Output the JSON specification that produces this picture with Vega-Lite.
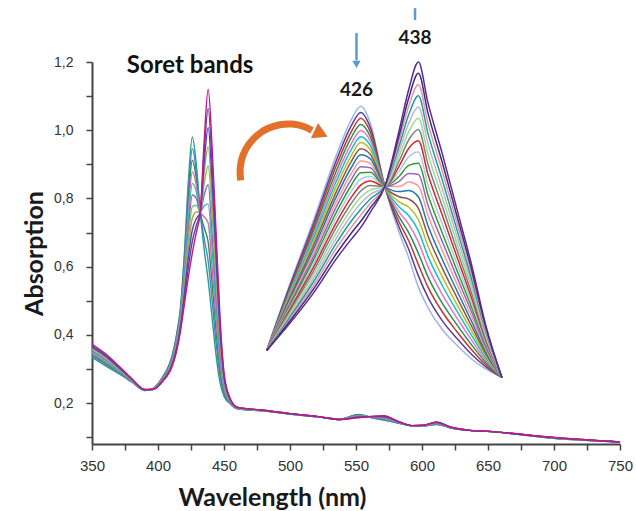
{
"$schema": "https://vega.github.io/schema/vega-lite/v6.json",
"width": 528,
"height": 382,
"autosize": {"type": "none"},
"padding": {"left": 92, "top": 62, "right": 16, "bottom": 67},
"background": "white",
"config": {
  "view": {"stroke": null},
  "font": "Lato",
  "axis": {"domainColor": "#444444", "domainWidth": 2, "tickColor": "#444444", "tickWidth": 1.5, "tickSize": 6, "grid": false, "labelFont": "Liberation Sans", "labelColor": "#333333", "labelFontSize": 14, "labelOverlap": false, "labelFlush": false, "titleFont": "Lato", "titleFontSize": 25, "titleFontWeight": "bold", "titleColor": "#1a1a1a", "titleAlign": "center", "titleBaseline": "middle"}
},
"datasets": {
"main": [
{"c":0,"nm":350,"a":0.334},{"c":1,"nm":350,"a":0.338},{"c":2,"nm":350,"a":0.342},{"c":3,"nm":350,"a":0.345},{"c":4,"nm":350,"a":0.349},{"c":5,"nm":350,"a":0.353},{"c":6,"nm":350,"a":0.357},{"c":7,"nm":350,"a":0.361},{"c":8,"nm":350,"a":0.364},{"c":9,"nm":350,"a":0.368},{"c":10,"nm":350,"a":0.372},
{"c":0,"nm":360,"a":0.31},{"c":1,"nm":360,"a":0.314},{"c":2,"nm":360,"a":0.317},{"c":3,"nm":360,"a":0.321},{"c":4,"nm":360,"a":0.324},{"c":5,"nm":360,"a":0.328},{"c":6,"nm":360,"a":0.331},{"c":7,"nm":360,"a":0.335},{"c":8,"nm":360,"a":0.338},{"c":9,"nm":360,"a":0.342},{"c":10,"nm":360,"a":0.345},
{"c":0,"nm":370,"a":0.287},{"c":1,"nm":370,"a":0.289},{"c":2,"nm":370,"a":0.292},{"c":3,"nm":370,"a":0.294},{"c":4,"nm":370,"a":0.296},{"c":5,"nm":370,"a":0.299},{"c":6,"nm":370,"a":0.301},{"c":7,"nm":370,"a":0.303},{"c":8,"nm":370,"a":0.305},{"c":9,"nm":370,"a":0.308},{"c":10,"nm":370,"a":0.31},
{"c":0,"nm":380,"a":0.262},{"c":1,"nm":380,"a":0.263},{"c":2,"nm":380,"a":0.264},{"c":3,"nm":380,"a":0.265},{"c":4,"nm":380,"a":0.266},{"c":5,"nm":380,"a":0.267},{"c":6,"nm":380,"a":0.268},{"c":7,"nm":380,"a":0.269},{"c":8,"nm":380,"a":0.27},{"c":9,"nm":380,"a":0.271},{"c":10,"nm":380,"a":0.272},
{"c":0,"nm":390,"a":0.237},{"c":1,"nm":390,"a":0.237},{"c":2,"nm":390,"a":0.238},{"c":3,"nm":390,"a":0.238},{"c":4,"nm":390,"a":0.238},{"c":5,"nm":390,"a":0.239},{"c":6,"nm":390,"a":0.239},{"c":7,"nm":390,"a":0.239},{"c":8,"nm":390,"a":0.239},{"c":9,"nm":390,"a":0.24},{"c":10,"nm":390,"a":0.24},
{"c":0,"nm":396,"a":0.242},{"c":1,"nm":396,"a":0.242},{"c":2,"nm":396,"a":0.242},{"c":3,"nm":396,"a":0.241},{"c":4,"nm":396,"a":0.241},{"c":5,"nm":396,"a":0.241},{"c":6,"nm":396,"a":0.241},{"c":7,"nm":396,"a":0.241},{"c":8,"nm":396,"a":0.24},{"c":9,"nm":396,"a":0.24},{"c":10,"nm":396,"a":0.24},
{"c":0,"nm":401,"a":0.262},{"c":1,"nm":401,"a":0.261},{"c":2,"nm":401,"a":0.26},{"c":3,"nm":401,"a":0.259},{"c":4,"nm":401,"a":0.258},{"c":5,"nm":401,"a":0.257},{"c":6,"nm":401,"a":0.256},{"c":7,"nm":401,"a":0.255},{"c":8,"nm":401,"a":0.254},{"c":9,"nm":401,"a":0.253},{"c":10,"nm":401,"a":0.252},
{"c":0,"nm":404,"a":0.28},{"c":1,"nm":404,"a":0.279},{"c":2,"nm":404,"a":0.277},{"c":3,"nm":404,"a":0.276},{"c":4,"nm":404,"a":0.274},{"c":5,"nm":404,"a":0.273},{"c":6,"nm":404,"a":0.272},{"c":7,"nm":404,"a":0.27},{"c":8,"nm":404,"a":0.269},{"c":9,"nm":404,"a":0.267},{"c":10,"nm":404,"a":0.266},
{"c":0,"nm":407,"a":0.3},{"c":1,"nm":407,"a":0.298},{"c":2,"nm":407,"a":0.296},{"c":3,"nm":407,"a":0.294},{"c":4,"nm":407,"a":0.292},{"c":5,"nm":407,"a":0.29},{"c":6,"nm":407,"a":0.288},{"c":7,"nm":407,"a":0.286},{"c":8,"nm":407,"a":0.284},{"c":9,"nm":407,"a":0.282},{"c":10,"nm":407,"a":0.28},
{"c":0,"nm":410,"a":0.33},{"c":1,"nm":410,"a":0.327},{"c":2,"nm":410,"a":0.324},{"c":3,"nm":410,"a":0.321},{"c":4,"nm":410,"a":0.318},{"c":5,"nm":410,"a":0.315},{"c":6,"nm":410,"a":0.312},{"c":7,"nm":410,"a":0.309},{"c":8,"nm":410,"a":0.306},{"c":9,"nm":410,"a":0.303},{"c":10,"nm":410,"a":0.3},
{"c":0,"nm":414,"a":0.4},{"c":1,"nm":414,"a":0.395},{"c":2,"nm":414,"a":0.39},{"c":3,"nm":414,"a":0.385},{"c":4,"nm":414,"a":0.38},{"c":5,"nm":414,"a":0.375},{"c":6,"nm":414,"a":0.37},{"c":7,"nm":414,"a":0.365},{"c":8,"nm":414,"a":0.36},{"c":9,"nm":414,"a":0.355},{"c":10,"nm":414,"a":0.35},
{"c":0,"nm":417,"a":0.48},{"c":1,"nm":417,"a":0.473},{"c":2,"nm":417,"a":0.466},{"c":3,"nm":417,"a":0.459},{"c":4,"nm":417,"a":0.452},{"c":5,"nm":417,"a":0.445},{"c":6,"nm":417,"a":0.438},{"c":7,"nm":417,"a":0.431},{"c":8,"nm":417,"a":0.424},{"c":9,"nm":417,"a":0.417},{"c":10,"nm":417,"a":0.41},
{"c":0,"nm":420,"a":0.64},{"c":1,"nm":420,"a":0.625},{"c":2,"nm":420,"a":0.61},{"c":3,"nm":420,"a":0.595},{"c":4,"nm":420,"a":0.58},{"c":5,"nm":420,"a":0.565},{"c":6,"nm":420,"a":0.55},{"c":7,"nm":420,"a":0.535},{"c":8,"nm":420,"a":0.52},{"c":9,"nm":420,"a":0.505},{"c":10,"nm":420,"a":0.49},
{"c":0,"nm":423,"a":0.85},{"c":1,"nm":423,"a":0.822},{"c":2,"nm":423,"a":0.794},{"c":3,"nm":423,"a":0.766},{"c":4,"nm":423,"a":0.738},{"c":5,"nm":423,"a":0.71},{"c":6,"nm":423,"a":0.682},{"c":7,"nm":423,"a":0.654},{"c":8,"nm":423,"a":0.626},{"c":9,"nm":423,"a":0.598},{"c":10,"nm":423,"a":0.57},
{"c":0,"nm":426,"a":0.98},{"c":1,"nm":426,"a":0.946},{"c":2,"nm":426,"a":0.912},{"c":3,"nm":426,"a":0.878},{"c":4,"nm":426,"a":0.844},{"c":5,"nm":426,"a":0.81},{"c":6,"nm":426,"a":0.776},{"c":7,"nm":426,"a":0.742},{"c":8,"nm":426,"a":0.708},{"c":9,"nm":426,"a":0.674},{"c":10,"nm":426,"a":0.64},
{"c":0,"nm":429,"a":0.9},{"c":1,"nm":429,"a":0.88},{"c":2,"nm":429,"a":0.86},{"c":3,"nm":429,"a":0.84},{"c":4,"nm":429,"a":0.82},{"c":5,"nm":429,"a":0.8},{"c":6,"nm":429,"a":0.78},{"c":7,"nm":429,"a":0.76},{"c":8,"nm":429,"a":0.74},{"c":9,"nm":429,"a":0.72},{"c":10,"nm":429,"a":0.7},
{"c":0,"nm":432,"a":0.76},{"c":1,"nm":432,"a":0.76},{"c":2,"nm":432,"a":0.76},{"c":3,"nm":432,"a":0.76},{"c":4,"nm":432,"a":0.76},{"c":5,"nm":432,"a":0.76},{"c":6,"nm":432,"a":0.76},{"c":7,"nm":432,"a":0.76},{"c":8,"nm":432,"a":0.76},{"c":9,"nm":432,"a":0.76},{"c":10,"nm":432,"a":0.76},
{"c":0,"nm":435,"a":0.65},{"c":1,"nm":435,"a":0.682},{"c":2,"nm":435,"a":0.714},{"c":3,"nm":435,"a":0.746},{"c":4,"nm":435,"a":0.778},{"c":5,"nm":435,"a":0.81},{"c":6,"nm":435,"a":0.842},{"c":7,"nm":435,"a":0.874},{"c":8,"nm":435,"a":0.906},{"c":9,"nm":435,"a":0.938},{"c":10,"nm":435,"a":0.97},
{"c":0,"nm":438,"a":0.56},{"c":1,"nm":438,"a":0.616},{"c":2,"nm":438,"a":0.672},{"c":3,"nm":438,"a":0.728},{"c":4,"nm":438,"a":0.784},{"c":5,"nm":438,"a":0.84},{"c":6,"nm":438,"a":0.896},{"c":7,"nm":438,"a":0.952},{"c":8,"nm":438,"a":1.008},{"c":9,"nm":438,"a":1.064},{"c":10,"nm":438,"a":1.12},
{"c":0,"nm":441,"a":0.45},{"c":1,"nm":441,"a":0.5},{"c":2,"nm":441,"a":0.55},{"c":3,"nm":441,"a":0.6},{"c":4,"nm":441,"a":0.65},{"c":5,"nm":441,"a":0.7},{"c":6,"nm":441,"a":0.75},{"c":7,"nm":441,"a":0.8},{"c":8,"nm":441,"a":0.85},{"c":9,"nm":441,"a":0.9},{"c":10,"nm":441,"a":0.95},
{"c":0,"nm":444,"a":0.34},{"c":1,"nm":444,"a":0.376},{"c":2,"nm":444,"a":0.412},{"c":3,"nm":444,"a":0.448},{"c":4,"nm":444,"a":0.484},{"c":5,"nm":444,"a":0.52},{"c":6,"nm":444,"a":0.556},{"c":7,"nm":444,"a":0.592},{"c":8,"nm":444,"a":0.628},{"c":9,"nm":444,"a":0.664},{"c":10,"nm":444,"a":0.7},
{"c":0,"nm":447,"a":0.26},{"c":1,"nm":447,"a":0.279},{"c":2,"nm":447,"a":0.298},{"c":3,"nm":447,"a":0.317},{"c":4,"nm":447,"a":0.336},{"c":5,"nm":447,"a":0.355},{"c":6,"nm":447,"a":0.374},{"c":7,"nm":447,"a":0.393},{"c":8,"nm":447,"a":0.412},{"c":9,"nm":447,"a":0.431},{"c":10,"nm":447,"a":0.45},
{"c":0,"nm":450,"a":0.22},{"c":1,"nm":450,"a":0.227},{"c":2,"nm":450,"a":0.234},{"c":3,"nm":450,"a":0.241},{"c":4,"nm":450,"a":0.248},{"c":5,"nm":450,"a":0.255},{"c":6,"nm":450,"a":0.262},{"c":7,"nm":450,"a":0.269},{"c":8,"nm":450,"a":0.276},{"c":9,"nm":450,"a":0.283},{"c":10,"nm":450,"a":0.29},
{"c":0,"nm":454,"a":0.2},{"c":1,"nm":454,"a":0.202},{"c":2,"nm":454,"a":0.204},{"c":3,"nm":454,"a":0.206},{"c":4,"nm":454,"a":0.208},{"c":5,"nm":454,"a":0.21},{"c":6,"nm":454,"a":0.212},{"c":7,"nm":454,"a":0.214},{"c":8,"nm":454,"a":0.216},{"c":9,"nm":454,"a":0.218},{"c":10,"nm":454,"a":0.22},
{"c":0,"nm":460,"a":0.183},{"c":1,"nm":460,"a":0.184},{"c":2,"nm":460,"a":0.184},{"c":3,"nm":460,"a":0.185},{"c":4,"nm":460,"a":0.185},{"c":5,"nm":460,"a":0.186},{"c":6,"nm":460,"a":0.186},{"c":7,"nm":460,"a":0.187},{"c":8,"nm":460,"a":0.187},{"c":9,"nm":460,"a":0.188},{"c":10,"nm":460,"a":0.188},
{"c":0,"nm":480,"a":0.177},{"c":1,"nm":480,"a":0.177},{"c":2,"nm":480,"a":0.177},{"c":3,"nm":480,"a":0.178},{"c":4,"nm":480,"a":0.178},{"c":5,"nm":480,"a":0.178},{"c":6,"nm":480,"a":0.178},{"c":7,"nm":480,"a":0.178},{"c":8,"nm":480,"a":0.179},{"c":9,"nm":480,"a":0.179},{"c":10,"nm":480,"a":0.179},
{"c":0,"nm":500,"a":0.168},{"c":1,"nm":500,"a":0.168},{"c":2,"nm":500,"a":0.168},{"c":3,"nm":500,"a":0.168},{"c":4,"nm":500,"a":0.168},{"c":5,"nm":500,"a":0.169},{"c":6,"nm":500,"a":0.169},{"c":7,"nm":500,"a":0.169},{"c":8,"nm":500,"a":0.169},{"c":9,"nm":500,"a":0.169},{"c":10,"nm":500,"a":0.169},
{"c":0,"nm":520,"a":0.16},{"c":1,"nm":520,"a":0.16},{"c":2,"nm":520,"a":0.16},{"c":3,"nm":520,"a":0.16},{"c":4,"nm":520,"a":0.16},{"c":5,"nm":520,"a":0.161},{"c":6,"nm":520,"a":0.161},{"c":7,"nm":520,"a":0.161},{"c":8,"nm":520,"a":0.161},{"c":9,"nm":520,"a":0.161},{"c":10,"nm":520,"a":0.161},
{"c":0,"nm":538,"a":0.153},{"c":1,"nm":538,"a":0.153},{"c":2,"nm":538,"a":0.153},{"c":3,"nm":538,"a":0.153},{"c":4,"nm":538,"a":0.153},{"c":5,"nm":538,"a":0.152},{"c":6,"nm":538,"a":0.152},{"c":7,"nm":538,"a":0.152},{"c":8,"nm":538,"a":0.152},{"c":9,"nm":538,"a":0.152},{"c":10,"nm":538,"a":0.152},
{"c":0,"nm":552,"a":0.167},{"c":1,"nm":552,"a":0.166},{"c":2,"nm":552,"a":0.165},{"c":3,"nm":552,"a":0.164},{"c":4,"nm":552,"a":0.163},{"c":5,"nm":552,"a":0.162},{"c":6,"nm":552,"a":0.161},{"c":7,"nm":552,"a":0.16},{"c":8,"nm":552,"a":0.159},{"c":9,"nm":552,"a":0.158},{"c":10,"nm":552,"a":0.157},
{"c":0,"nm":562,"a":0.157},{"c":1,"nm":562,"a":0.157},{"c":2,"nm":562,"a":0.158},{"c":3,"nm":562,"a":0.158},{"c":4,"nm":562,"a":0.159},{"c":5,"nm":562,"a":0.159},{"c":6,"nm":562,"a":0.159},{"c":7,"nm":562,"a":0.16},{"c":8,"nm":562,"a":0.16},{"c":9,"nm":562,"a":0.161},{"c":10,"nm":562,"a":0.161},
{"c":0,"nm":571,"a":0.15},{"c":1,"nm":571,"a":0.151},{"c":2,"nm":571,"a":0.153},{"c":3,"nm":571,"a":0.154},{"c":4,"nm":571,"a":0.155},{"c":5,"nm":571,"a":0.157},{"c":6,"nm":571,"a":0.158},{"c":7,"nm":571,"a":0.159},{"c":8,"nm":571,"a":0.16},{"c":9,"nm":571,"a":0.162},{"c":10,"nm":571,"a":0.163},
{"c":0,"nm":582,"a":0.141},{"c":1,"nm":582,"a":0.142},{"c":2,"nm":582,"a":0.142},{"c":3,"nm":582,"a":0.143},{"c":4,"nm":582,"a":0.143},{"c":5,"nm":582,"a":0.144},{"c":6,"nm":582,"a":0.144},{"c":7,"nm":582,"a":0.145},{"c":8,"nm":582,"a":0.145},{"c":9,"nm":582,"a":0.146},{"c":10,"nm":582,"a":0.146},
{"c":0,"nm":592,"a":0.134},{"c":1,"nm":592,"a":0.134},{"c":2,"nm":592,"a":0.134},{"c":3,"nm":592,"a":0.134},{"c":4,"nm":592,"a":0.134},{"c":5,"nm":592,"a":0.134},{"c":6,"nm":592,"a":0.134},{"c":7,"nm":592,"a":0.134},{"c":8,"nm":592,"a":0.134},{"c":9,"nm":592,"a":0.134},{"c":10,"nm":592,"a":0.134},
{"c":0,"nm":601,"a":0.133},{"c":1,"nm":601,"a":0.133},{"c":2,"nm":601,"a":0.133},{"c":3,"nm":601,"a":0.134},{"c":4,"nm":601,"a":0.134},{"c":5,"nm":601,"a":0.134},{"c":6,"nm":601,"a":0.134},{"c":7,"nm":601,"a":0.134},{"c":8,"nm":601,"a":0.135},{"c":9,"nm":601,"a":0.135},{"c":10,"nm":601,"a":0.135},
{"c":0,"nm":611,"a":0.137},{"c":1,"nm":611,"a":0.138},{"c":2,"nm":611,"a":0.139},{"c":3,"nm":611,"a":0.139},{"c":4,"nm":611,"a":0.14},{"c":5,"nm":611,"a":0.141},{"c":6,"nm":611,"a":0.142},{"c":7,"nm":611,"a":0.143},{"c":8,"nm":611,"a":0.143},{"c":9,"nm":611,"a":0.144},{"c":10,"nm":611,"a":0.145},
{"c":0,"nm":622,"a":0.127},{"c":1,"nm":622,"a":0.127},{"c":2,"nm":622,"a":0.127},{"c":3,"nm":622,"a":0.128},{"c":4,"nm":622,"a":0.128},{"c":5,"nm":622,"a":0.128},{"c":6,"nm":622,"a":0.128},{"c":7,"nm":622,"a":0.128},{"c":8,"nm":622,"a":0.129},{"c":9,"nm":622,"a":0.129},{"c":10,"nm":622,"a":0.129},
{"c":0,"nm":636,"a":0.12},{"c":1,"nm":636,"a":0.12},{"c":2,"nm":636,"a":0.12},{"c":3,"nm":636,"a":0.12},{"c":4,"nm":636,"a":0.12},{"c":5,"nm":636,"a":0.12},{"c":6,"nm":636,"a":0.12},{"c":7,"nm":636,"a":0.12},{"c":8,"nm":636,"a":0.12},{"c":9,"nm":636,"a":0.12},{"c":10,"nm":636,"a":0.12},
{"c":0,"nm":650,"a":0.117},{"c":1,"nm":650,"a":0.117},{"c":2,"nm":650,"a":0.117},{"c":3,"nm":650,"a":0.117},{"c":4,"nm":650,"a":0.117},{"c":5,"nm":650,"a":0.117},{"c":6,"nm":650,"a":0.117},{"c":7,"nm":650,"a":0.117},{"c":8,"nm":650,"a":0.117},{"c":9,"nm":650,"a":0.117},{"c":10,"nm":650,"a":0.117},
{"c":0,"nm":700,"a":0.097},{"c":1,"nm":700,"a":0.097},{"c":2,"nm":700,"a":0.097},{"c":3,"nm":700,"a":0.098},{"c":4,"nm":700,"a":0.098},{"c":5,"nm":700,"a":0.098},{"c":6,"nm":700,"a":0.098},{"c":7,"nm":700,"a":0.098},{"c":8,"nm":700,"a":0.099},{"c":9,"nm":700,"a":0.099},{"c":10,"nm":700,"a":0.099},
{"c":0,"nm":750,"a":0.086},{"c":1,"nm":750,"a":0.086},{"c":2,"nm":750,"a":0.086},{"c":3,"nm":750,"a":0.086},{"c":4,"nm":750,"a":0.086},{"c":5,"nm":750,"a":0.086},{"c":6,"nm":750,"a":0.086},{"c":7,"nm":750,"a":0.086},{"c":8,"nm":750,"a":0.086},{"c":9,"nm":750,"a":0.086},{"c":10,"nm":750,"a":0.086}
],
"inset": [
{"c":0,"nm":406.4,"a":0.274},{"c":1,"nm":406.4,"a":0.274},{"c":2,"nm":406.4,"a":0.274},{"c":3,"nm":406.4,"a":0.274},{"c":4,"nm":406.4,"a":0.274},{"c":5,"nm":406.4,"a":0.274},{"c":6,"nm":406.4,"a":0.274},{"c":7,"nm":406.4,"a":0.274},{"c":8,"nm":406.4,"a":0.274},{"c":9,"nm":406.4,"a":0.274},{"c":10,"nm":406.4,"a":0.274},{"c":11,"nm":406.4,"a":0.274},{"c":12,"nm":406.4,"a":0.274},{"c":13,"nm":406.4,"a":0.274},{"c":14,"nm":406.4,"a":0.274},{"c":15,"nm":406.4,"a":0.274},{"c":16,"nm":406.4,"a":0.274},{"c":17,"nm":406.4,"a":0.274},{"c":18,"nm":406.4,"a":0.274},{"c":19,"nm":406.4,"a":0.274},{"c":20,"nm":406.4,"a":0.274},
{"c":0,"nm":411,"a":0.46},{"c":1,"nm":411,"a":0.455},{"c":2,"nm":411,"a":0.449},{"c":3,"nm":411,"a":0.444},{"c":4,"nm":411,"a":0.438},{"c":5,"nm":411,"a":0.433},{"c":6,"nm":411,"a":0.427},{"c":7,"nm":411,"a":0.422},{"c":8,"nm":411,"a":0.416},{"c":9,"nm":411,"a":0.411},{"c":10,"nm":411,"a":0.405},{"c":11,"nm":411,"a":0.4},{"c":12,"nm":411,"a":0.394},{"c":13,"nm":411,"a":0.389},{"c":14,"nm":411,"a":0.383},{"c":15,"nm":411,"a":0.378},{"c":16,"nm":411,"a":0.372},{"c":17,"nm":411,"a":0.367},{"c":18,"nm":411,"a":0.361},{"c":19,"nm":411,"a":0.356},{"c":20,"nm":411,"a":0.35},
{"c":0,"nm":416,"a":0.65},{"c":1,"nm":416,"a":0.64},{"c":2,"nm":416,"a":0.629},{"c":3,"nm":416,"a":0.619},{"c":4,"nm":416,"a":0.608},{"c":5,"nm":416,"a":0.598},{"c":6,"nm":416,"a":0.587},{"c":7,"nm":416,"a":0.577},{"c":8,"nm":416,"a":0.566},{"c":9,"nm":416,"a":0.556},{"c":10,"nm":416,"a":0.545},{"c":11,"nm":416,"a":0.535},{"c":12,"nm":416,"a":0.524},{"c":13,"nm":416,"a":0.514},{"c":14,"nm":416,"a":0.503},{"c":15,"nm":416,"a":0.493},{"c":16,"nm":416,"a":0.482},{"c":17,"nm":416,"a":0.472},{"c":18,"nm":416,"a":0.461},{"c":19,"nm":416,"a":0.451},{"c":20,"nm":416,"a":0.44},
{"c":0,"nm":421,"a":0.85},{"c":1,"nm":421,"a":0.835},{"c":2,"nm":421,"a":0.82},{"c":3,"nm":421,"a":0.804},{"c":4,"nm":421,"a":0.789},{"c":5,"nm":421,"a":0.774},{"c":6,"nm":421,"a":0.759},{"c":7,"nm":421,"a":0.743},{"c":8,"nm":421,"a":0.728},{"c":9,"nm":421,"a":0.713},{"c":10,"nm":421,"a":0.698},{"c":11,"nm":421,"a":0.682},{"c":12,"nm":421,"a":0.667},{"c":13,"nm":421,"a":0.652},{"c":14,"nm":421,"a":0.637},{"c":15,"nm":421,"a":0.621},{"c":16,"nm":421,"a":0.606},{"c":17,"nm":421,"a":0.591},{"c":18,"nm":421,"a":0.576},{"c":19,"nm":421,"a":0.56},{"c":20,"nm":421,"a":0.545},
{"c":0,"nm":424,"a":0.95},{"c":1,"nm":424,"a":0.933},{"c":2,"nm":424,"a":0.915},{"c":3,"nm":424,"a":0.898},{"c":4,"nm":424,"a":0.88},{"c":5,"nm":424,"a":0.863},{"c":6,"nm":424,"a":0.845},{"c":7,"nm":424,"a":0.828},{"c":8,"nm":424,"a":0.81},{"c":9,"nm":424,"a":0.793},{"c":10,"nm":424,"a":0.775},{"c":11,"nm":424,"a":0.758},{"c":12,"nm":424,"a":0.74},{"c":13,"nm":424,"a":0.723},{"c":14,"nm":424,"a":0.705},{"c":15,"nm":424,"a":0.688},{"c":16,"nm":424,"a":0.67},{"c":17,"nm":424,"a":0.653},{"c":18,"nm":424,"a":0.635},{"c":19,"nm":424,"a":0.618},{"c":20,"nm":424,"a":0.6},
{"c":0,"nm":426,"a":0.99},{"c":1,"nm":426,"a":0.972},{"c":2,"nm":426,"a":0.955},{"c":3,"nm":426,"a":0.937},{"c":4,"nm":426,"a":0.919},{"c":5,"nm":426,"a":0.901},{"c":6,"nm":426,"a":0.884},{"c":7,"nm":426,"a":0.866},{"c":8,"nm":426,"a":0.848},{"c":9,"nm":426,"a":0.83},{"c":10,"nm":426,"a":0.813},{"c":11,"nm":426,"a":0.795},{"c":12,"nm":426,"a":0.777},{"c":13,"nm":426,"a":0.759},{"c":14,"nm":426,"a":0.742},{"c":15,"nm":426,"a":0.724},{"c":16,"nm":426,"a":0.706},{"c":17,"nm":426,"a":0.688},{"c":18,"nm":426,"a":0.671},{"c":19,"nm":426,"a":0.653},{"c":20,"nm":426,"a":0.635},
{"c":0,"nm":428,"a":0.94},{"c":1,"nm":428,"a":0.927},{"c":2,"nm":428,"a":0.914},{"c":3,"nm":428,"a":0.901},{"c":4,"nm":428,"a":0.888},{"c":5,"nm":428,"a":0.875},{"c":6,"nm":428,"a":0.862},{"c":7,"nm":428,"a":0.849},{"c":8,"nm":428,"a":0.836},{"c":9,"nm":428,"a":0.823},{"c":10,"nm":428,"a":0.81},{"c":11,"nm":428,"a":0.797},{"c":12,"nm":428,"a":0.784},{"c":13,"nm":428,"a":0.771},{"c":14,"nm":428,"a":0.758},{"c":15,"nm":428,"a":0.745},{"c":16,"nm":428,"a":0.732},{"c":17,"nm":428,"a":0.719},{"c":18,"nm":428,"a":0.706},{"c":19,"nm":428,"a":0.693},{"c":20,"nm":428,"a":0.68},
{"c":0,"nm":431,"a":0.755},{"c":1,"nm":431,"a":0.755},{"c":2,"nm":431,"a":0.755},{"c":3,"nm":431,"a":0.755},{"c":4,"nm":431,"a":0.755},{"c":5,"nm":431,"a":0.755},{"c":6,"nm":431,"a":0.755},{"c":7,"nm":431,"a":0.755},{"c":8,"nm":431,"a":0.755},{"c":9,"nm":431,"a":0.755},{"c":10,"nm":431,"a":0.755},{"c":11,"nm":431,"a":0.755},{"c":12,"nm":431,"a":0.755},{"c":13,"nm":431,"a":0.755},{"c":14,"nm":431,"a":0.755},{"c":15,"nm":431,"a":0.755},{"c":16,"nm":431,"a":0.755},{"c":17,"nm":431,"a":0.755},{"c":18,"nm":431,"a":0.755},{"c":19,"nm":431,"a":0.755},{"c":20,"nm":431,"a":0.755},
{"c":0,"nm":434,"a":0.62},{"c":1,"nm":434,"a":0.635},{"c":2,"nm":434,"a":0.65},{"c":3,"nm":434,"a":0.665},{"c":4,"nm":434,"a":0.68},{"c":5,"nm":434,"a":0.695},{"c":6,"nm":434,"a":0.71},{"c":7,"nm":434,"a":0.725},{"c":8,"nm":434,"a":0.74},{"c":9,"nm":434,"a":0.755},{"c":10,"nm":434,"a":0.77},{"c":11,"nm":434,"a":0.785},{"c":12,"nm":434,"a":0.8},{"c":13,"nm":434,"a":0.815},{"c":14,"nm":434,"a":0.83},{"c":15,"nm":434,"a":0.845},{"c":16,"nm":434,"a":0.86},{"c":17,"nm":434,"a":0.875},{"c":18,"nm":434,"a":0.89},{"c":19,"nm":434,"a":0.905},{"c":20,"nm":434,"a":0.92},
{"c":0,"nm":436,"a":0.545},{"c":1,"nm":436,"a":0.57},{"c":2,"nm":436,"a":0.595},{"c":3,"nm":436,"a":0.619},{"c":4,"nm":436,"a":0.644},{"c":5,"nm":436,"a":0.669},{"c":6,"nm":436,"a":0.694},{"c":7,"nm":436,"a":0.718},{"c":8,"nm":436,"a":0.743},{"c":9,"nm":436,"a":0.768},{"c":10,"nm":436,"a":0.793},{"c":11,"nm":436,"a":0.817},{"c":12,"nm":436,"a":0.842},{"c":13,"nm":436,"a":0.867},{"c":14,"nm":436,"a":0.892},{"c":15,"nm":436,"a":0.916},{"c":16,"nm":436,"a":0.941},{"c":17,"nm":436,"a":0.966},{"c":18,"nm":436,"a":0.991},{"c":19,"nm":436,"a":1.015},{"c":20,"nm":436,"a":1.04},
{"c":0,"nm":438,"a":0.46},{"c":1,"nm":438,"a":0.493},{"c":2,"nm":438,"a":0.526},{"c":3,"nm":438,"a":0.559},{"c":4,"nm":438,"a":0.592},{"c":5,"nm":438,"a":0.625},{"c":6,"nm":438,"a":0.658},{"c":7,"nm":438,"a":0.691},{"c":8,"nm":438,"a":0.724},{"c":9,"nm":438,"a":0.757},{"c":10,"nm":438,"a":0.79},{"c":11,"nm":438,"a":0.823},{"c":12,"nm":438,"a":0.856},{"c":13,"nm":438,"a":0.889},{"c":14,"nm":438,"a":0.922},{"c":15,"nm":438,"a":0.955},{"c":16,"nm":438,"a":0.988},{"c":17,"nm":438,"a":1.021},{"c":18,"nm":438,"a":1.054},{"c":19,"nm":438,"a":1.087},{"c":20,"nm":438,"a":1.12},
{"c":0,"nm":440,"a":0.4},{"c":1,"nm":440,"a":0.43},{"c":2,"nm":440,"a":0.46},{"c":3,"nm":440,"a":0.49},{"c":4,"nm":440,"a":0.52},{"c":5,"nm":440,"a":0.55},{"c":6,"nm":440,"a":0.58},{"c":7,"nm":440,"a":0.61},{"c":8,"nm":440,"a":0.64},{"c":9,"nm":440,"a":0.67},{"c":10,"nm":440,"a":0.7},{"c":11,"nm":440,"a":0.73},{"c":12,"nm":440,"a":0.76},{"c":13,"nm":440,"a":0.79},{"c":14,"nm":440,"a":0.82},{"c":15,"nm":440,"a":0.85},{"c":16,"nm":440,"a":0.88},{"c":17,"nm":440,"a":0.91},{"c":18,"nm":440,"a":0.94},{"c":19,"nm":440,"a":0.97},{"c":20,"nm":440,"a":1.0},
{"c":0,"nm":443,"a":0.335},{"c":1,"nm":443,"a":0.361},{"c":2,"nm":443,"a":0.387},{"c":3,"nm":443,"a":0.412},{"c":4,"nm":443,"a":0.438},{"c":5,"nm":443,"a":0.464},{"c":6,"nm":443,"a":0.49},{"c":7,"nm":443,"a":0.515},{"c":8,"nm":443,"a":0.541},{"c":9,"nm":443,"a":0.567},{"c":10,"nm":443,"a":0.593},{"c":11,"nm":443,"a":0.618},{"c":12,"nm":443,"a":0.644},{"c":13,"nm":443,"a":0.67},{"c":14,"nm":443,"a":0.696},{"c":15,"nm":443,"a":0.721},{"c":16,"nm":443,"a":0.747},{"c":17,"nm":443,"a":0.773},{"c":18,"nm":443,"a":0.799},{"c":19,"nm":443,"a":0.824},{"c":20,"nm":443,"a":0.85},
{"c":0,"nm":446,"a":0.29},{"c":1,"nm":446,"a":0.31},{"c":2,"nm":446,"a":0.33},{"c":3,"nm":446,"a":0.35},{"c":4,"nm":446,"a":0.37},{"c":5,"nm":446,"a":0.39},{"c":6,"nm":446,"a":0.41},{"c":7,"nm":446,"a":0.43},{"c":8,"nm":446,"a":0.45},{"c":9,"nm":446,"a":0.47},{"c":10,"nm":446,"a":0.49},{"c":11,"nm":446,"a":0.51},{"c":12,"nm":446,"a":0.53},{"c":13,"nm":446,"a":0.55},{"c":14,"nm":446,"a":0.57},{"c":15,"nm":446,"a":0.59},{"c":16,"nm":446,"a":0.61},{"c":17,"nm":446,"a":0.63},{"c":18,"nm":446,"a":0.65},{"c":19,"nm":446,"a":0.67},{"c":20,"nm":446,"a":0.69},
{"c":0,"nm":449,"a":0.25},{"c":1,"nm":449,"a":0.264},{"c":2,"nm":449,"a":0.278},{"c":3,"nm":449,"a":0.292},{"c":4,"nm":449,"a":0.306},{"c":5,"nm":449,"a":0.32},{"c":6,"nm":449,"a":0.334},{"c":7,"nm":449,"a":0.348},{"c":8,"nm":449,"a":0.362},{"c":9,"nm":449,"a":0.376},{"c":10,"nm":449,"a":0.39},{"c":11,"nm":449,"a":0.404},{"c":12,"nm":449,"a":0.418},{"c":13,"nm":449,"a":0.432},{"c":14,"nm":449,"a":0.446},{"c":15,"nm":449,"a":0.46},{"c":16,"nm":449,"a":0.474},{"c":17,"nm":449,"a":0.488},{"c":18,"nm":449,"a":0.502},{"c":19,"nm":449,"a":0.516},{"c":20,"nm":449,"a":0.53},
{"c":0,"nm":452,"a":0.22},{"c":1,"nm":452,"a":0.227},{"c":2,"nm":452,"a":0.233},{"c":3,"nm":452,"a":0.24},{"c":4,"nm":452,"a":0.246},{"c":5,"nm":452,"a":0.253},{"c":6,"nm":452,"a":0.259},{"c":7,"nm":452,"a":0.266},{"c":8,"nm":452,"a":0.272},{"c":9,"nm":452,"a":0.279},{"c":10,"nm":452,"a":0.285},{"c":11,"nm":452,"a":0.292},{"c":12,"nm":452,"a":0.298},{"c":13,"nm":452,"a":0.305},{"c":14,"nm":452,"a":0.311},{"c":15,"nm":452,"a":0.318},{"c":16,"nm":452,"a":0.324},{"c":17,"nm":452,"a":0.331},{"c":18,"nm":452,"a":0.337},{"c":19,"nm":452,"a":0.344},{"c":20,"nm":452,"a":0.35},
{"c":0,"nm":455.4,"a":0.195},{"c":1,"nm":455.4,"a":0.195},{"c":2,"nm":455.4,"a":0.195},{"c":3,"nm":455.4,"a":0.195},{"c":4,"nm":455.4,"a":0.195},{"c":5,"nm":455.4,"a":0.195},{"c":6,"nm":455.4,"a":0.195},{"c":7,"nm":455.4,"a":0.195},{"c":8,"nm":455.4,"a":0.195},{"c":9,"nm":455.4,"a":0.195},{"c":10,"nm":455.4,"a":0.195},{"c":11,"nm":455.4,"a":0.195},{"c":12,"nm":455.4,"a":0.195},{"c":13,"nm":455.4,"a":0.195},{"c":14,"nm":455.4,"a":0.195},{"c":15,"nm":455.4,"a":0.195},{"c":16,"nm":455.4,"a":0.195},{"c":17,"nm":455.4,"a":0.195},{"c":18,"nm":455.4,"a":0.195},{"c":19,"nm":455.4,"a":0.195},{"c":20,"nm":455.4,"a":0.195}
],
"arc": [
{"i":1,"nm":462.6,"a":0.853},{"i":2,"nm":462.3,"a":0.89},{"i":3,"nm":464.3,"a":0.926},{"i":4,"nm":468.7,"a":0.958},{"i":5,"nm":475.1,"a":0.985},{"i":6,"nm":483.1,"a":1.005},{"i":7,"nm":492.2,"a":1.016},{"i":8,"nm":501.7,"a":1.018},{"i":9,"nm":510.9,"a":1.01},{"i":10,"nm":516.7,"a":0.999}
]
},
"layer": [
{
  "data": {"name": "main"},
  "mark": {"type": "line", "interpolate": "monotone", "strokeWidth": 1.4},
  "encoding": {
    "x": {"field": "nm", "type": "quantitative", "scale": {"domain": [350, 750], "nice": false, "zero": false},
      "axis": {"title": "Wavelength (nm)", "values": [350,375,400,425,450,475,500,525,550,575,600,625,650,675,700,725,750], "labelExpr": "datum.value % 50 === 0 ? datum.label : ''", "labelFontSize": 15, "labelPadding": 8, "titleX": 180, "titleY": 53}},
    "y": {"field": "a", "type": "quantitative", "scale": {"domain": [0.08, 1.2], "nice": false, "zero": false},
      "axis": {"title": "Absorption", "values": [0.1,0.2,0.3,0.4,0.5,0.6,0.7,0.8,0.9,1.0,1.1,1.2], "labelExpr": "round(datum.value * 10) % 2 === 0 ? replace(format(datum.value, '.1f'), '.', ',') : ''", "labelPadding": 13, "titleX": -58, "titleY": 191}},
    "color": {"field": "c", "type": "nominal", "legend": null, "scale": {"domain": [0,1,2,3,4,5,6,7,8,9,10], "range": ["#1fa187","#4f7fd0","#2e8b57","#d16aa8","#41b6c4","#8c6bb1","#7fbf7b","#b2a04a","#3b4cc0","#6a3d9a","#c2188f"]}}
  }
},
{
  "data": {"name": "inset"},
  "mark": {"type": "line", "interpolate": "monotone", "strokeWidth": 1.5},
  "encoding": {
    "x": {"field": "nm", "type": "quantitative", "scale": {"domain": [370, 480], "nice": false, "zero": false}, "axis": null},
    "y": {"field": "a", "type": "quantitative", "scale": {"domain": [0, 1.12], "nice": false, "zero": false}, "axis": null},
    "color": {"field": "c", "type": "nominal", "legend": null, "scale": {"domain": [0,1,2,3,4,5,6,7,8,9,10,11,12,13,14,15,16,17,18,19,20], "range": ["#9fb4e8","#5e3c99","#c0392b","#2e8b57","#e377c2","#17becf","#bcbd22","#8c564b","#1f77b4","#ff9896","#9467bd","#2ca02c","#aec7e8","#d62728","#7f7f7f","#98df8a","#c5b0d5","#1a9e9e","#e7969c","#3f2a88","#5b2c8f"]}}
  }
},
{
  "data": {"values": [{"nm": 424.3, "a": 1.187, "label": "Soret bands"}]},
  "mark": {"type": "text", "font": "Lato", "fontSize": 24, "fontWeight": "bold", "color": "#111111", "align": "center", "baseline": "middle"},
  "encoding": {
    "x": {"field": "nm", "type": "quantitative", "scale": {"domain": [350, 750], "nice": false, "zero": false}, "axis": null},
    "y": {"field": "a", "type": "quantitative", "scale": {"domain": [0.08, 1.2], "nice": false, "zero": false}, "axis": null},
    "text": {"field": "label"}
  }
},
{
  "data": {"name": "arc"},
  "mark": {"type": "line", "interpolate": "catmull-rom", "strokeWidth": 7, "color": "#e2702a", "strokeCap": "butt"},
  "encoding": {
    "x": {"field": "nm", "type": "quantitative", "scale": {"domain": [350, 750], "nice": false, "zero": false}, "axis": null},
    "y": {"field": "a", "type": "quantitative", "scale": {"domain": [0.08, 1.2], "nice": false, "zero": false}, "axis": null},
    "order": {"field": "i"}
  }
},
{
  "data": {"values": [{"nm": 523.5, "a": 0.99}]},
  "mark": {"type": "point", "shape": "triangle-right", "size": 280, "angle": 25, "filled": true, "color": "#e2702a", "opacity": 1},
  "encoding": {
    "x": {"field": "nm", "type": "quantitative", "scale": {"domain": [350, 750], "nice": false, "zero": false}, "axis": null},
    "y": {"field": "a", "type": "quantitative", "scale": {"domain": [0.08, 1.2], "nice": false, "zero": false}, "axis": null}
  }
},
{
  "data": {"values": [{"nm": 425.1, "a": 1.038, "label": "426"}, {"nm": 437.3, "a": 1.19, "label": "438"}]},
  "mark": {"type": "text", "font": "Lato", "fontSize": 19, "fontWeight": "bold", "color": "#1a1a1a", "align": "center", "baseline": "middle"},
  "encoding": {
    "x": {"field": "nm", "type": "quantitative", "scale": {"domain": [370, 480], "nice": false, "zero": false}, "axis": null},
    "y": {"field": "a", "type": "quantitative", "scale": {"domain": [0, 1.12], "nice": false, "zero": false}, "axis": null},
    "text": {"field": "label"}
  }
},
{
  "data": {"values": [{"nm": 425.1, "a": 1.205, "a2": 1.125}, {"nm": 437.3, "a": 1.278, "a2": 1.243}]},
  "mark": {"type": "rule", "strokeWidth": 2.5, "color": "#5b9bd5"},
  "encoding": {
    "x": {"field": "nm", "type": "quantitative", "scale": {"domain": [370, 480], "nice": false, "zero": false}, "axis": null},
    "y": {"field": "a", "type": "quantitative", "scale": {"domain": [0, 1.12], "nice": false, "zero": false}, "axis": null},
    "y2": {"field": "a2"}
  }
},
{
  "data": {"values": [{"nm": 425.1, "a": 1.113}]},
  "mark": {"type": "point", "shape": "triangle-down", "size": 70, "filled": true, "color": "#5b9bd5", "opacity": 1},
  "encoding": {
    "x": {"field": "nm", "type": "quantitative", "scale": {"domain": [370, 480], "nice": false, "zero": false}, "axis": null},
    "y": {"field": "a", "type": "quantitative", "scale": {"domain": [0, 1.12], "nice": false, "zero": false}, "axis": null}
  }
}
],
"resolve": {"scale": {"x": "independent", "y": "independent", "color": "independent"}}
}
